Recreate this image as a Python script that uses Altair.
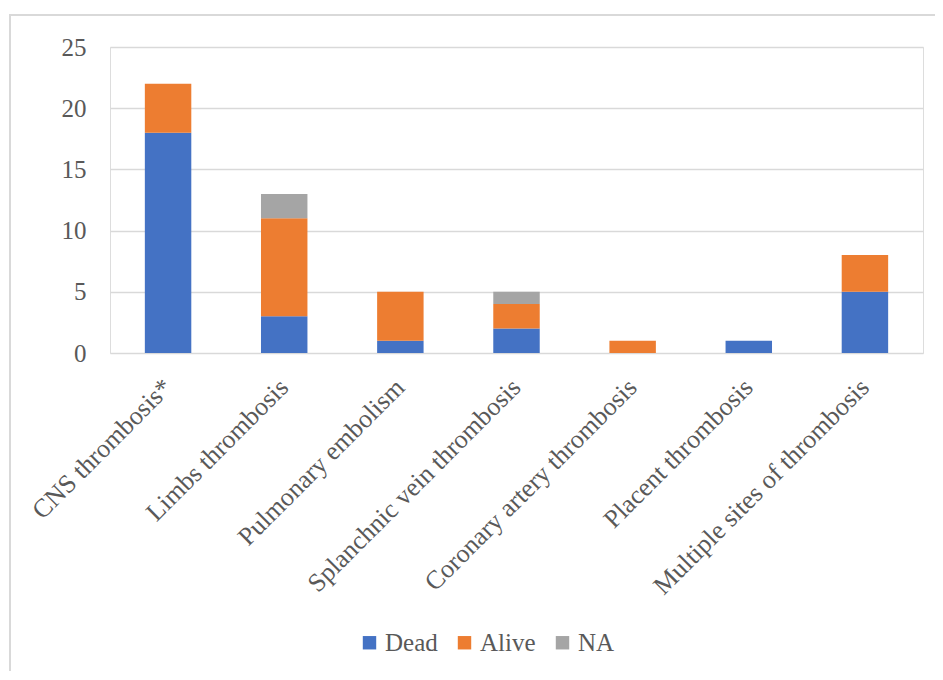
import altair as alt
import pandas as pd

categories = ["CNS thrombosis*", "Limbs thrombosis", "Pulmonary embolism",
              "Splanchnic vein thrombosis", "Coronary artery thrombosis",
              "Placent thrombosis", "Multiple sites of thrombosis"]
dead = [18, 3, 1, 2, 0, 1, 5]
alive = [4, 8, 4, 2, 1, 0, 3]
na = [0, 2, 0, 1, 0, 0, 0]
series = ["Dead", "Alive", "NA"]
colors = ["#4472C4", "#ED7D31", "#A5A5A5"]

rows = []
for i, c in enumerate(categories):
    for k, (s, vals) in enumerate(zip(series, [dead, alive, na])):
        if vals[i] > 0:
            rows.append({"category": c, "status": s, "value": vals[i], "ord": k})
df = pd.DataFrame(rows)

FONT = "'Times New Roman', 'Liberation Serif', serif"
TXT = "#595959"

bars = alt.Chart(df).mark_bar().encode(
    x=alt.X("category:N", sort=categories, title=None,
            scale=alt.Scale(paddingInner=0.6, paddingOuter=0.3),
            axis=alt.Axis(labelAngle=-45, labelAlign="right", labelBaseline="middle",
                          labelPadding=30, ticks=False, domain=False,
                          labelFont=FONT, labelFontSize=26, labelColor=TXT,
                          labelLimit=400, grid=False)),
    y=alt.Y("value:Q", stack="zero", title=None,
            scale=alt.Scale(domain=[0, 25]),
            axis=alt.Axis(values=[0, 5, 10, 15, 20, 25], ticks=False, domain=False,
                          labelPadding=24, labelFont=FONT, labelFontSize=25,
                          labelColor=TXT, gridColor="#D9D9D9", gridWidth=1.5)),
    color=alt.Color("status:N", sort=series,
                    scale=alt.Scale(domain=series, range=colors),
                    legend=alt.Legend(title=None, orient="none", direction="horizontal",
                                      legendX=247, legendY=583, symbolType="square",
                                      symbolSize=180, symbolStrokeWidth=0,
                                      labelFont=FONT, labelFontSize=25, labelColor=TXT,
                                      labelOffset=3, columnPadding=14)),
    order=alt.Order("ord:Q"),
)

frame = alt.Chart(pd.DataFrame({"a": [0]})).mark_rect(
    fill=None, stroke="#D9D9D9", strokeWidth=2
).encode(x=alt.value(-100), x2=alt.value(835), y=alt.value(-32), y2=alt.value(660))

chart = alt.layer(frame, bars).properties(
    width=813, height=306,
    autosize=alt.AutoSizeParams(type="none"),
    padding={"left": 102, "top": 39, "right": 12, "bottom": 318},
).configure_view(stroke=None).configure(
    background="white", font=FONT
).configure_legend(labelFont=FONT, labelFontSize=25, labelColor=TXT)

chart.save("out.html", embed_options={"renderer": "svg", "actions": False})
